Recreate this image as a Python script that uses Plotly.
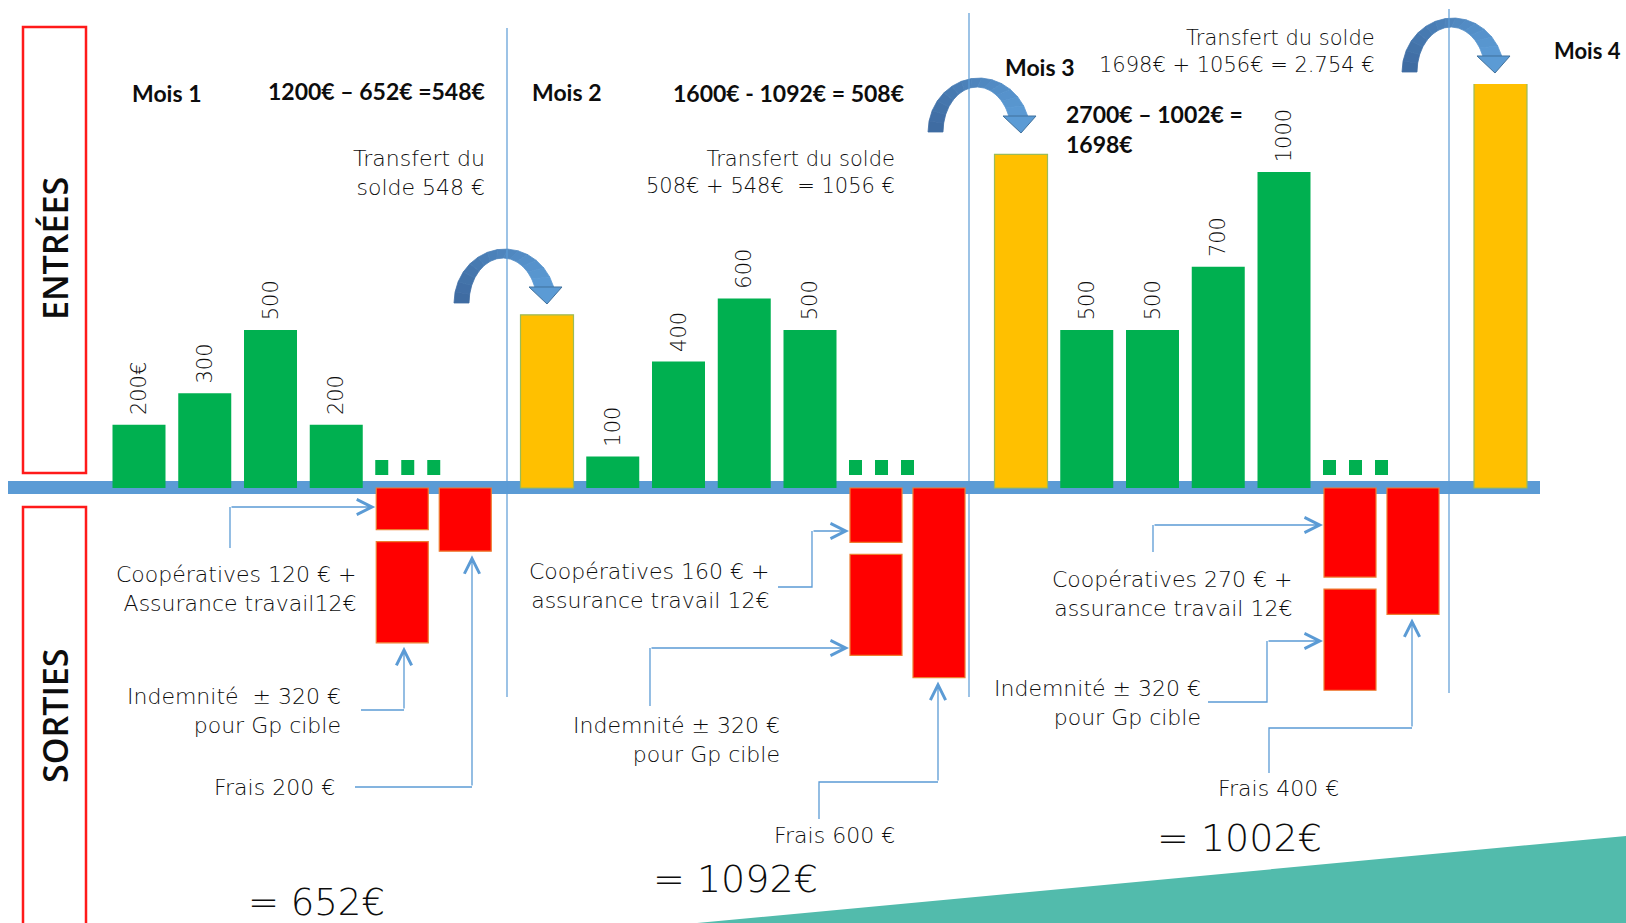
import plotly.graph_objects as go
import math

W, H = 1626, 923

# ------------------------------------------------------------------ data
mois = ["Mois 1", "Mois 2", "Mois 3", "Mois 4"]
entrees_m1 = [200, 300, 500, 200]
entrees_m2 = [100, 400, 600, 500]
entrees_m3 = [500, 500, 700, 1000]
labels_m1 = ["200€", "300", "500", "200"]
labels_m2 = ["100", "400", "600", "500"]
labels_m3 = ["500", "500", "700", "1000"]
solde_reporte = [548, 1056, 2754]          # transferred balance, start of Mois 2, 3, 4
cooperatives = [120, 160, 270]
assurance = [12, 12, 12]
indemnite = [320, 320, 320]
frais = [200, 600, 400]
total_entrees = [1200, 1600, 2700]
total_sorties = [652, 1092, 1002]
solde = [548, 508, 1698]

# ------------------------------------------------------------------ layout constants (pixels)
ZERO_PX = 488          # pixel row of the 0 € line
EUR_PX = 0.316         # pixels per euro
PLOT_TOP_PX = 84       # top of the bar plotting area
STEP = 65.75           # distance between bar slots
BAR_W = 53
RED_W = 52
GAP_PX = 12
FIRST_X = [139, 547, 1021]
M4_X = 1500.5

LIGHT = "DejaVu Sans ExtraLight, DejaVu Sans"
BOLD = "Lato"
BLUE = "#5B9BD5"
TXT = "#0D0D0D"

gap_eur = GAP_PX / EUR_PX


def ypx(v):
    return ZERO_PX - v * EUR_PX


def P(px, py):
    return f"{px / W:.5f},{1 - py / H:.5f}"


# bar positions
green_x, green_y, green_t = [], [], []
last_green = []
for m, (vals, labs) in enumerate([(entrees_m1, labels_m1), (entrees_m2, labels_m2), (entrees_m3, labels_m3)]):
    off = 0 if m == 0 else 1
    xs = [FIRST_X[m] + (i + off) * STEP for i in range(len(vals))]
    green_x += xs
    green_y += vals
    green_t += ["\u00a0" + l for l in labs]
    last_green.append(xs[-1])
yellow_x = [FIRST_X[1], FIRST_X[2], M4_X]
colA = [x + 66 for x in last_green]
colB = [x + 63 for x in colA]
coopass = [c + a for c, a in zip(cooperatives, assurance)]

fig = go.Figure()

fig.add_trace(go.Bar(
    x=green_x, y=green_y, width=BAR_W, text=green_t, textposition="outside",
    textangle=-90, constraintext="none",
    textfont=dict(family=LIGHT, size=21, color=TXT, weight=200),
    marker=dict(color="#00B050", line=dict(width=0)), name="Entrées", cliponaxis=False))
fig.add_trace(go.Bar(
    x=yellow_x, y=solde_reporte, width=BAR_W,
    marker=dict(color="#FFC000", line=dict(color="#9BBB59", width=1.2)), name="Solde reporté"))
fig.add_trace(go.Bar(
    x=colA, y=[-v for v in coopass], base=[0, 0, 0], width=RED_W,
    marker=dict(color="#FF0000", line=dict(color="#ED7D31", width=1.2)), name="Coopératives + assurance"))
fig.add_trace(go.Bar(
    x=colA, y=[-v for v in indemnite], base=[-(v + gap_eur) for v in coopass], width=RED_W,
    marker=dict(color="#FF0000", line=dict(color="#ED7D31", width=1.2)), name="Indemnité"))
fig.add_trace(go.Bar(
    x=colB, y=[-v for v in frais], base=[0, 0, 0], width=RED_W,
    marker=dict(color="#FF0000", line=dict(color="#ED7D31", width=1.2)), name="Frais"))

shapes = []
# teal corner decoration
shapes.append(dict(type="path", xref="paper", yref="paper", layer="below",
                   path=f"M{P(697, 923)}L{P(1626, 836)}L{P(1626, 923)}Z",
                   fillcolor="#52BBAC", line=dict(width=0)))
# baseline band
shapes.append(dict(type="rect", xref="paper", yref="paper", layer="below",
                   x0=8 / W, x1=1540 / W, y0=1 - 494 / H, y1=1 - 481 / H,
                   fillcolor=BLUE, line=dict(width=0)))
# red frames
for (y0, y1) in [(27, 473), (507, 945)]:
    shapes.append(dict(type="rect", xref="paper", yref="paper",
                       x0=23 / W, x1=86 / W, y0=1 - y1 / H, y1=1 - y0 / H,
                       line=dict(color="#FF1A1A", width=2.5), fillcolor="rgba(0,0,0,0)"))
# small green "..." squares
for a in colA:
    for dx in (-20.5, 5.5, 31.5):
        shapes.append(dict(type="rect", xref="paper", yref="paper",
                           x0=(a + dx - 6.5) / W, x1=(a + dx + 6.5) / W,
                           y0=1 - 475 / H, y1=1 - 460 / H,
                           fillcolor="#00B050", line=dict(width=0)))


# curved transfer arrows
def lerp(c0, c1, t):
    return "#%02X%02X%02X" % tuple(int(round(a + (b - a) * t)) for a, b in zip(c0, c1))


def curved_arrow(ax, ay):
    ocx, orx, ory = ax + 51, 51, 54
    icx, irx, iry = ax + 49, 34, 45
    to_end = math.degrees(math.asin(16 / ory))
    ti_end = math.degrees(math.asin(16 / iry))
    N = 14
    dark, light = (62, 106, 160), (91, 155, 213)

    def outer(t):
        th = math.radians(180 - t * (180 - to_end))
        return ocx + orx * math.cos(th), ay - ory * math.sin(th)

    def inner(t):
        th = math.radians(180 - t * (180 - ti_end))
        return icx + irx * math.cos(th), ay - iry * math.sin(th)

    out = []
    for i in range(N):
        t0, t1 = i / N, (i + 1) / N
        pts = [outer(t0), outer(t1), inner(t1), inner(t0)]
        col = lerp(dark, light, (t0 + t1) / 2)
        out.append(dict(type="path", xref="paper", yref="paper",
                        path="M" + "L".join(P(*p) for p in pts) + "Z",
                        fillcolor=col, line=dict(color=col, width=0.8)))
    head = [(ax + 75, ay - 16), (ax + 108, ay - 16), (ax + 93, ay + 1)]
    out.append(dict(type="path", xref="paper", yref="paper",
                    path="M" + "L".join(P(*p) for p in head) + "Z",
                    fillcolor="#5B9BD5", line=dict(color="#41719C", width=1)))
    return out


for (ax, ay) in [(454, 303), (928, 132), (1402, 72)]:
    shapes += curved_arrow(ax, ay)

# month separators
for (x, y0, y1) in [(507, 28, 697), (969, 13, 697), (1449, 9, 693)]:
    shapes.append(dict(type="line", xref="paper", yref="paper",
                       x0=x / W, x1=x / W, y0=1 - y1 / H, y1=1 - y0 / H,
                       line=dict(color=BLUE, width=1.2)))

annotations = []
# connectors with open arrow heads
connectors = [
    ([(230, 548), (230, 507)], (colA[0] - RED_W / 2 - 1, 507)),
    ([(361, 710), (404, 710)], (404, ypx(-(coopass[0] + gap_eur + indemnite[0])) + 4)),
    ([(355, 787), (472, 787)], (472, ypx(-frais[0]) + 4)),
    ([(778, 587), (812, 587), (812, 531)], (colA[1] - RED_W / 2 - 1, 531)),
    ([(650, 706), (650, 648)], (colA[1] - RED_W / 2 - 1, 648)),
    ([(819, 819), (819, 782), (938, 782)], (938, ypx(-frais[1]) + 4)),
    ([(1153, 552), (1153, 525)], (colA[2] - RED_W / 2 - 1, 525)),
    ([(1208, 702), (1267, 702), (1267, 641)], (colA[2] - RED_W / 2 - 1, 641)),
    ([(1269, 773), (1269, 728), (1412, 728)], (1412, ypx(-frais[2]) + 4)),
]
for pts, tip in connectors:
    if len(pts) >= 2:
        shapes.append(dict(type="path", xref="paper", yref="paper",
                           path="M" + "L".join(P(*p) for p in pts),
                           line=dict(color=BLUE, width=1.3)))
    last = pts[-1]
    annotations.append(dict(xref="paper", yref="paper", x=tip[0] / W, y=1 - tip[1] / H,
                            ax=last[0] - tip[0], ay=last[1] - tip[1], axref="pixel", ayref="pixel",
                            text="", showarrow=True, arrowhead=5, arrowsize=2.3,
                            arrowwidth=1.3, arrowcolor=BLUE, standoff=0, startstandoff=0))


def txt(s, x, y, size, xanchor="left", family=LIGHT, weight=200, angle=0):
    annotations.append(dict(text=s, xref="paper", yref="paper", x=x / W, y=1 - y / H,
                            xanchor=xanchor, yanchor="middle", showarrow=False,
                            align=xanchor if xanchor != "center" else "center",
                            textangle=angle,
                            font=dict(family=family, size=size, color=TXT, weight=weight)))


NB = "\u00a0"
# side headers
txt("ENTRÉES", 55, 249, 34, "center", family="Open Sans", weight=600, angle=-90)
txt("SORTIES", 55, 716, 34, "center", family="Open Sans", weight=600, angle=-90)

# month headers & balances (bold)
txt(mois[0], 130, 93, 23, family=BOLD, weight=700)
txt(f"{total_entrees[0]}€ – {total_sorties[0]}€ ={solde[0]}€", 487, 91, 23, "right", family=BOLD, weight=700)
txt(mois[1], 530, 92, 23, family=BOLD, weight=700)
txt(f"{total_entrees[1]}€ - {total_sorties[1]}€ = {solde[1]}€", 906, 93, 23, "right", family=BOLD, weight=700)
txt(mois[2], 1003, 67, 23, family=BOLD, weight=700)
txt(f"{total_entrees[2]}€ – {total_sorties[2]}€ =<br>{solde[2]}€", 1064, 129, 23, family=BOLD, weight=700)
txt(mois[3], 1552, 50, 22, family=BOLD, weight=700)

# transfers
txt(f"Transfert du<br>solde {solde_reporte[0]} €", 487, 172.5, 22, "right")
txt(f"Transfert du solde<br>{solde[1]}€ + {solde[0]}€ {NB}= {solde_reporte[1]} €", 897, 172, 21, "right")
txt(f"Transfert du solde<br>{solde[2]}€ + {solde_reporte[1]}€ = 2.754 €", 1377, 51.5, 21, "right")

# outputs
txt(f"Coopératives {cooperatives[0]} € +<br>Assurance travail{assurance[0]}€", 358, 589, 22, "right")
txt(f"Indemnité {NB}± {indemnite[0]} €<br>pour Gp cible", 343, 711, 22, "right")
txt(f"Frais {frais[0]} €", 337, 787, 22, "right")
txt(f"= {total_sorties[0]}€", 316, 902, 37, "center")

txt(f"Coopératives {cooperatives[1]} € +<br>assurance travail {assurance[1]}€", 771, 586, 22, "right")
txt(f"Indemnité ± {indemnite[1]} €<br>pour Gp cible", 782, 739.5, 22, "right")
txt(f"Frais {frais[1]} €", 834.5, 835, 22, "center")
txt(f"= {total_sorties[1]}€", 735, 879, 38, "center")

txt(f"Coopératives {cooperatives[2]} € +<br>assurance travail {assurance[2]}€", 1294, 593.5, 22, "right")
txt(f"Indemnité ± {indemnite[2]} €<br>pour Gp cible", 1203, 703, 22, "right")
txt(f"Frais {frais[2]} €", 1278, 788, 22, "center")
txt(f"= {total_sorties[2]}€", 1239, 838, 38, "center")

y_top = (ZERO_PX - PLOT_TOP_PX) / EUR_PX
y_bot = -(H - ZERO_PX) / EUR_PX
fig.update_layout(
    width=W, height=H, autosize=False,
    margin=dict(l=0, r=0, t=0, b=0, pad=0),
    paper_bgcolor="white", plot_bgcolor="rgba(0,0,0,0)",
    barmode="overlay", showlegend=False, hovermode=False,
    xaxis=dict(range=[0, W], domain=[0, 1], visible=False, fixedrange=True),
    yaxis=dict(range=[y_bot, y_top], domain=[0, (H - PLOT_TOP_PX) / H], visible=False, fixedrange=True),
    shapes=shapes, annotations=annotations,
)

fig.write_html("out.html", config={"displayModeBar": False, "staticPlot": True},
               post_script="document.body.style.margin='0';document.body.style.overflow='hidden';")
